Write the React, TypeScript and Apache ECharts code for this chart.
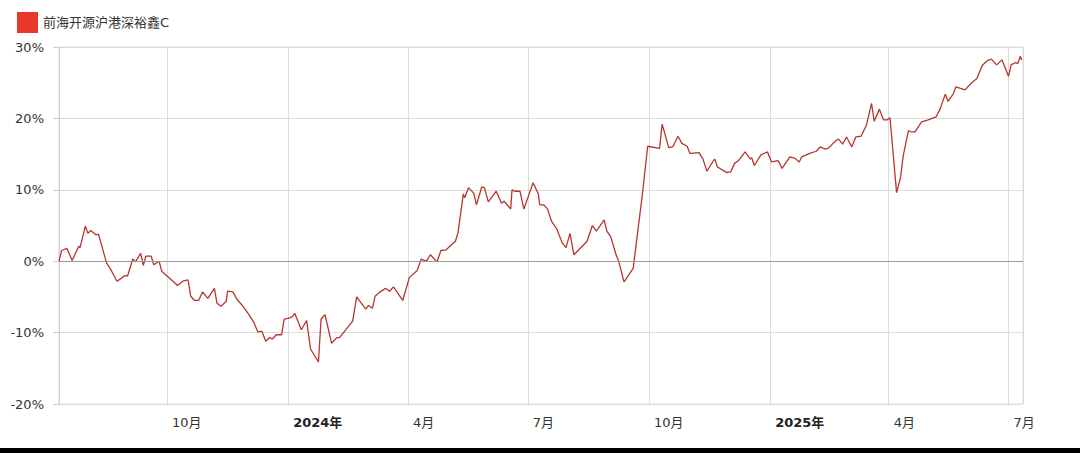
import React, { useEffect, useRef } from "react";
import * as echarts from "echarts";

const seriesName = "前海开源沪港深裕鑫C";
const xMin = "2023-07-11";
const xMax = "2025-07-12";
const yTicks = [-20, -10, 0, 10, 20, 30];

const dates = [
  "2023-07-11","2023-07-13","2023-07-17","2023-07-21","2023-07-26","2023-07-27","2023-07-31","2023-08-02","2023-08-04","2023-08-08",
  "2023-08-10","2023-08-16","2023-08-20","2023-08-24","2023-08-28","2023-08-30","2023-09-01","2023-09-05","2023-09-07","2023-09-11",
  "2023-09-13","2023-09-15","2023-09-19","2023-09-21","2023-09-25","2023-09-27","2023-10-03","2023-10-09","2023-10-13","2023-10-17",
  "2023-10-19","2023-10-22","2023-10-25","2023-10-28","2023-11-01","2023-11-06","2023-11-08","2023-11-11","2023-11-15","2023-11-16",
  "2023-11-20","2023-11-23","2023-11-28","2023-12-02","2023-12-06","2023-12-09","2023-12-12","2023-12-15","2023-12-18","2023-12-20",
  "2023-12-23","2023-12-27","2023-12-29","2024-01-01","2024-01-04","2024-01-06","2024-01-11","2024-01-15","2024-01-18","2024-01-24",
  "2024-01-26","2024-01-29","2024-02-03","2024-02-07","2024-02-09","2024-02-19","2024-02-22","2024-02-29","2024-03-02","2024-03-05",
  "2024-03-07","2024-03-10","2024-03-15","2024-03-18","2024-03-21","2024-03-24","2024-03-28","2024-04-02","2024-04-08","2024-04-11",
  "2024-04-15","2024-04-18","2024-04-23","2024-04-26","2024-04-30","2024-05-04","2024-05-07","2024-05-09","2024-05-13","2024-05-14",
  "2024-05-17","2024-05-21","2024-05-23","2024-05-27","2024-05-29","2024-06-01","2024-06-07","2024-06-11","2024-06-13","2024-06-18",
  "2024-06-19","2024-06-21","2024-06-25","2024-06-28","2024-07-05","2024-07-09","2024-07-10","2024-07-13","2024-07-16","2024-07-19",
  "2024-07-23","2024-07-27","2024-07-30","2024-08-02","2024-08-05","2024-08-15","2024-08-19","2024-08-22","2024-08-28","2024-08-30",
  "2024-09-02","2024-09-06","2024-09-08","2024-09-12","2024-09-15","2024-09-19","2024-09-26","2024-09-30","2024-10-09","2024-10-11",
  "2024-10-16","2024-10-19","2024-10-23","2024-10-26","2024-10-30","2024-11-01","2024-11-08","2024-11-11","2024-11-14","2024-11-19",
  "2024-11-20","2024-11-22","2024-11-29","2024-12-02","2024-12-05","2024-12-08","2024-12-13","2024-12-17","2024-12-18","2024-12-20",
  "2024-12-25","2024-12-30","2025-01-02","2025-01-07","2025-01-10","2025-01-16","2025-01-20","2025-01-23","2025-01-25","2025-01-31",
  "2025-02-05","2025-02-08","2025-02-12","2025-02-14","2025-02-20","2025-02-22","2025-02-25","2025-02-28","2025-03-04","2025-03-07",
  "2025-03-11","2025-03-15","2025-03-19","2025-03-21","2025-03-25","2025-03-28","2025-03-31","2025-04-02","2025-04-07","2025-04-10",
  "2025-04-12","2025-04-16","2025-04-18","2025-04-21","2025-04-26","2025-05-01","2025-05-07","2025-05-10","2025-05-14","2025-05-16",
  "2025-05-20","2025-05-22","2025-05-29","2025-06-03","2025-06-07","2025-06-11","2025-06-15","2025-06-18","2025-06-22","2025-06-26",
  "2025-07-01","2025-07-03","2025-07-06","2025-07-08","2025-07-10","2025-07-11"
];

const values = [
  0.0, 1.5, 1.8, 0.1, 2.1, 1.9, 4.9, 3.9, 4.3, 3.7,
  3.8, -0.2, -1.4, -2.8, -2.3, -2.0, -2.1, 0.3, -0.1, 1.1,
  -0.6, 0.7, 0.7, -0.5, 0.0, -1.4, -2.4, -3.4, -2.8, -2.6,
  -4.9, -5.5, -5.5, -4.3, -5.2, -3.8, -5.9, -6.3, -5.6, -4.2,
  -4.3, -5.3, -6.4, -7.4, -8.6, -9.9, -9.8, -11.2, -10.7, -10.9,
  -10.3, -10.3, -8.1, -8.0, -7.8, -7.3, -9.6, -8.3, -12.3, -14.1,
  -8.1, -7.5, -11.5, -10.7, -10.7, -8.4, -5.0, -6.7, -6.2, -6.6,
  -4.9, -4.4, -3.8, -4.2, -3.6, -4.4, -5.5, -2.3, -1.3, 0.3,
  0.0, 0.9, -0.1, 1.5, 1.6, 2.3, 2.8, 4.0, 9.4, 8.9,
  10.3, 9.5, 7.9, 10.4, 10.3, 8.3, 9.8, 8.1, 8.4, 7.3,
  10.0, 9.8, 9.8, 7.3, 11.0, 9.4, 7.9, 7.9, 7.3, 5.6,
  4.5, 2.6, 1.9, 3.9, 0.9, 2.8, 5.0, 4.2, 5.8, 4.2,
  3.4, 0.9, 0.0, -2.9, -2.1, -1.0, 9.4, 16.1, 15.8, 19.2,
  15.9, 16.0, 17.5, 16.5, 16.1, 15.1, 15.2, 14.3, 12.6, 14.1,
  14.3, 13.2, 12.4, 12.5, 13.7, 14.1, 15.3, 14.3, 14.5, 13.4,
  14.9, 15.3, 13.9, 14.1, 13.0, 14.6, 14.4, 13.9, 14.6, 15.1,
  15.4, 16.0, 15.7, 15.8, 16.9, 17.1, 16.4, 17.4, 16.0, 17.4,
  17.5, 19.0, 22.1, 19.6, 21.3, 19.8, 19.8, 20.1, 9.6, 11.7,
  14.7, 18.3, 18.1, 18.1, 19.5, 19.8, 20.2, 21.3, 23.4, 22.4,
  23.4, 24.4, 24.0, 25.0, 25.6, 27.4, 28.1, 28.3, 27.5, 28.2,
  25.9, 27.5, 27.8, 27.7, 28.7, 28.2
];

const FONT = "'DejaVu Sans', 'Noto Sans CJK SC', sans-serif";

export default function App() {
  const ref = useRef<HTMLDivElement>(null);

  useEffect(() => {
    if (!ref.current) return;
    const chart = echarts.init(ref.current, null, { renderer: "svg" });
    const data = dates.map((d, i) => [d, values[i]]);
    chart.setOption({
      animation: false,
      backgroundColor: "#ffffff",
      textStyle: { fontFamily: FONT },
      legend: {
        left: 12,
        top: 7,
        itemWidth: 21,
        itemHeight: 21,
        itemGap: 10,
        icon: "rect",
        textStyle: { fontSize: 13, color: "#333", fontFamily: FONT },
        data: [{ name: seriesName, itemStyle: { color: "#e8382c" } }],
      },
      grid: {
        left: 59,
        right: 57,
        top: 47,
        bottom: 44,
        show: true,
        borderColor: "#dcdcdc",
        borderWidth: 1,
        backgroundColor: "transparent",
      },
      xAxis: {
        type: "time",
        min: xMin,
        max: xMax,
        splitNumber: 8,
        axisLine: { show: true, lineStyle: { color: "#d8d8d8" } },
        axisTick: { show: true, length: 6, lineStyle: { color: "#d8d8d8" } },
        splitLine: { show: true, lineStyle: { color: "#dcdcdc", width: 1 } },
        minorTick: { show: false },
        axisLabel: {
          show: true,
          showMinLabel: false,
          showMaxLabel: false,
          align: "left",
          margin: 12,
          padding: [0, 0, 0, 5],
          fontSize: 13,
          color: "#333",
          fontFamily: FONT,
          formatter: (val: number) => {
            const d = new Date(val);
            if (d.getMonth() === 0) return "{y|" + d.getFullYear() + "年}";
            return d.getMonth() + 1 + "月";
          },
          rich: {
            y: { fontWeight: "bold", fontSize: 13, color: "#222", fontFamily: FONT },
          },
        },
      },
      yAxis: {
        type: "value",
        min: yTicks[0],
        max: yTicks[yTicks.length - 1],
        interval: 10,
        axisLine: { show: true, lineStyle: { color: "#d0d0d0" } },
        axisTick: { show: true, length: 6, lineStyle: { color: "#d0d0d0" } },
        splitLine: { show: true, lineStyle: { color: "#dcdcdc" } },
        axisLabel: {
          margin: 15,
          fontSize: 13,
          color: "#333",
          fontFamily: FONT,
          formatter: "{value}%",
        },
      },
      series: [
        {
          name: seriesName,
          type: "line",
          data,
          showSymbol: false,
          symbol: "none",
          lineStyle: { color: "#b5362e", width: 1.3 },
          itemStyle: { color: "#e8382c" },
          markLine: {
            silent: true,
            symbol: ["none", "none"],
            label: { show: false },
            lineStyle: { color: "#9a9a9a", type: "solid", width: 1 },
            data: [{ yAxis: 0 }],
          },
          z: 3,
        },
      ],
    });
    return () => chart.dispose();
  }, []);

  return (
    <div
      style={{
        position: "fixed",
        left: 0,
        top: 0,
        width: 1080,
        height: 453,
        background: "#000",
      }}
    >
      <div ref={ref} style={{ width: 1080, height: 448, background: "#fff" }} />
    </div>
  );
}
